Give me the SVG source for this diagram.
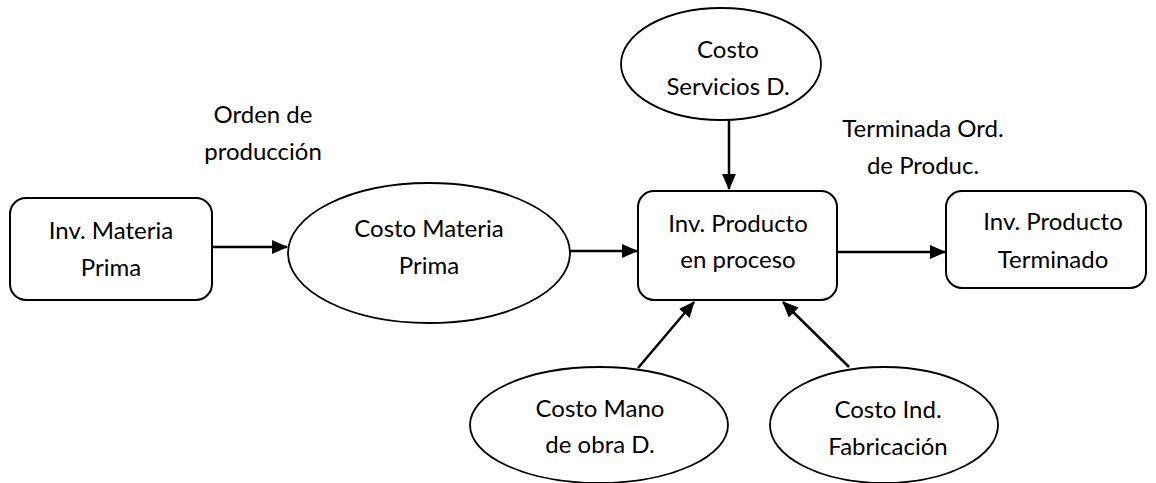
<svg xmlns="http://www.w3.org/2000/svg" width="1156" height="483" viewBox="0 0 1156 483">
  <style>
    .box { fill: #fff; stroke: #000; stroke-width: 2; }
    .oval { fill: #fff; stroke: #000; stroke-width: 1.8; }
    .lbl { font-family: Lato, "Liberation Sans", sans-serif; font-size: 24px; fill: #000; text-anchor: middle; }
    .edge { stroke: #000; stroke-width: 2.5; fill: none; marker-end: url(#arrow); }
  </style>
  <defs>
    <marker id="arrow" markerUnits="userSpaceOnUse" markerWidth="16" markerHeight="14" refX="15" refY="7" orient="auto">
      <path d="M0,0 L16,7 L0,14 Z" fill="#000"/>
    </marker>
  </defs>

  <rect width="1156" height="483" fill="#fff"/>

  <!-- flow annotations -->
  <g id="label-orden">
    <text class="lbl" x="263" y="123">Orden de</text>
    <text class="lbl" x="263" y="160">producción</text>
  </g>
  <g id="label-terminada">
    <text class="lbl" x="923" y="137">Terminada Ord.</text>
    <text class="lbl" x="923" y="174">de Produc.</text>
  </g>

  <!-- nodes -->
  <g id="inv-materia-prima">
    <rect class="box" x="10" y="198" width="202" height="102" rx="16"/>
    <text class="lbl" x="111" y="239">Inv. Materia</text>
    <text class="lbl" x="111" y="276">Prima</text>
  </g>
  <g id="costo-materia-prima">
    <ellipse class="oval" cx="429" cy="253" rx="141" ry="70"/>
    <text class="lbl" x="429" y="237">Costo Materia</text>
    <text class="lbl" x="429" y="274">Prima</text>
  </g>
  <g id="inv-producto-proceso">
    <rect class="box" x="638" y="191" width="199" height="109" rx="16"/>
    <text class="lbl" x="738" y="232">Inv. Producto</text>
    <text class="lbl" x="738" y="268">en proceso</text>
  </g>
  <g id="inv-producto-terminado">
    <rect class="box" x="946" y="191" width="200" height="97" rx="16"/>
    <text class="lbl" x="1053" y="230">Inv. Producto</text>
    <text class="lbl" x="1053" y="268">Terminado</text>
  </g>
  <g id="costo-servicios">
    <ellipse class="oval" cx="721" cy="64" rx="100" ry="56"/>
    <text class="lbl" x="728" y="58">Costo</text>
    <text class="lbl" x="728" y="95">Servicios D.</text>
  </g>
  <g id="costo-mano-obra">
    <ellipse class="oval" cx="599" cy="425" rx="129" ry="58"/>
    <text class="lbl" x="600" y="417">Costo Mano</text>
    <text class="lbl" x="600" y="453">de obra D.</text>
  </g>
  <g id="costo-ind-fabricacion">
    <ellipse class="oval" cx="884" cy="425" rx="114" ry="58"/>
    <text class="lbl" x="888" y="418">Costo Ind.</text>
    <text class="lbl" x="888" y="455">Fabricación</text>
  </g>

  <!-- connectors -->
  <g id="connectors">
    <line class="edge" x1="212" y1="247" x2="287" y2="247"/>
    <line class="edge" x1="570" y1="251" x2="637" y2="251"/>
    <line class="edge" x1="837" y1="252" x2="945" y2="252"/>
    <line class="edge" x1="729" y1="120" x2="729" y2="189"/>
    <line class="edge" x1="638" y1="368" x2="694" y2="302"/>
    <line class="edge" x1="849" y1="367" x2="783" y2="302"/>
  </g>
</svg>
